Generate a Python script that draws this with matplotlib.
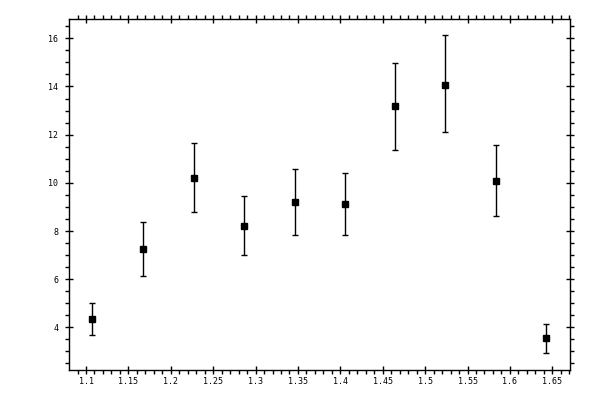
import matplotlib
matplotlib.use("Agg")
from matplotlib import pyplot as plt
from matplotlib.ticker import MultipleLocator, FormatStrFormatter
import numpy as np

x = [1.107, 1.167, 1.227, 1.286, 1.346, 1.405, 1.465, 1.524, 1.583, 1.642]
y = [4.33, 7.24, 10.19, 8.19, 9.19, 9.11, 13.18, 14.07, 10.06, 3.54]
y_hi = [5.02, 8.36, 11.64, 9.44, 10.56, 10.40, 14.99, 16.13, 11.56, 4.12]
y_lo = [3.67, 6.12, 8.79, 6.99, 7.82, 7.82, 11.35, 12.10, 8.61, 2.93]

x = np.array(x)
y = np.array(y)
err = [y - np.array(y_lo), np.array(y_hi) - y]

fig = plt.figure(figsize=(6, 4), dpi=100)
ax = fig.add_axes([0.1155, 0.075, 0.835, 0.8768])

ax.errorbar(x, y, yerr=err, fmt='s', color='black', ms=5, elinewidth=1.0,
            capsize=2.2, capthick=1.0)

ax.set_xlim(1.0803, 1.6712)
ax.set_ylim(2.23, 16.79)

ax.xaxis.set_major_locator(MultipleLocator(0.05))
ax.xaxis.set_minor_locator(MultipleLocator(0.01))
ax.yaxis.set_major_locator(MultipleLocator(2))
ax.yaxis.set_minor_locator(MultipleLocator(0.5))

# labels like 1.1, 1.15, 1.2 ...
ax.xaxis.set_major_formatter(plt.FuncFormatter(lambda v, p: ('%.2f' % v).rstrip('0').rstrip('.')))
ax.yaxis.set_major_formatter(FormatStrFormatter('%d'))

for s in ax.spines.values():
    s.set_linewidth(1.0)

ax.tick_params(which='major', direction='inout', length=6, width=1.0,
               top=True, right=True, labelsize=6)
ax.tick_params(which='minor', direction='out', length=3, width=1.0,
               top=True, right=True)
ax.tick_params(axis='x', which='major', pad=2)
ax.tick_params(axis='y', which='major', pad=5)
for lab in ax.get_xticklabels() + ax.get_yticklabels():
    lab.set_family('DejaVu Sans Mono')

fig.savefig('out.png', dpi=100)
